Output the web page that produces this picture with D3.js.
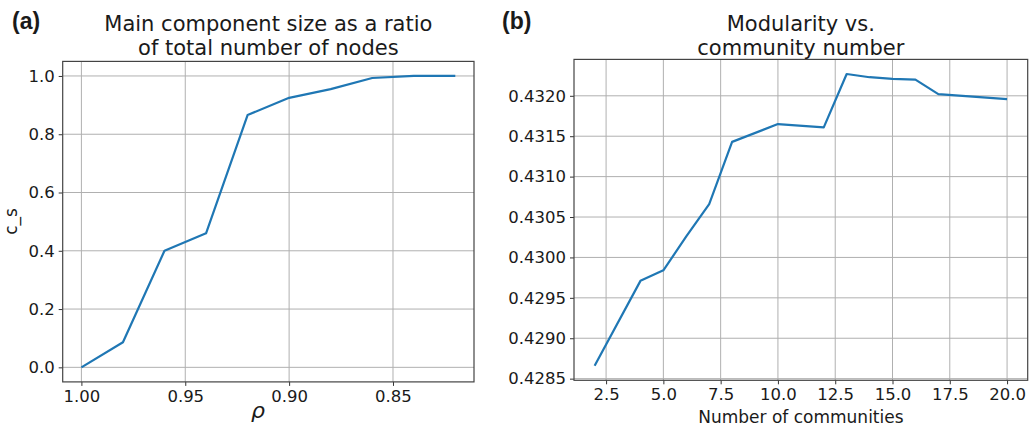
<!DOCTYPE html>
<html>
<head>
<meta charset="utf-8">
<script src="https://cdn.jsdelivr.net/npm/d3@7"></script>
<style>
body{margin:0;background:#fff;}
svg text{font-family:"DejaVu Sans",sans-serif;fill:#1a1a1a;}
.grid line{stroke:#b0b0b0;stroke-width:1;}
.axis path{display:none;}
.axis line{stroke:#333;}
.frame{fill:none;stroke:#444;stroke-width:1.2;}
</style>
</head>
<body>
<svg id="chart" width="1030" height="428"></svg>
<script>
// panel (a): main component size vs rho
var rho=[1.00,0.98,0.96,0.94,0.92,0.90,0.88,0.86,0.84,0.82];
var cs=[0.0,0.086,0.40,0.46,0.866,0.925,0.955,0.993,1.0,1.0];
var rhoTicks=[1.00,0.95,0.90,0.85];
var csTicks=[0.0,0.2,0.4,0.6,0.8,1.0];

// panel (b): modularity vs community number
var ncom=[2,4,5,6,7,8,10,12,13,14,15,16,17,20];
var modularity=[0.42866,0.42971,0.42984,0.43026,0.43066,0.43143,0.43165,0.43161,0.43227,0.43223,0.43221,0.43220,0.43202,0.43196];
var ncomTicks=[2.5,5.0,7.5,10.0,12.5,15.0,17.5,20.0];
var modTicks=[0.4285,0.4290,0.4295,0.4300,0.4305,0.4310,0.4315,0.4320];

var svg=d3.select("#chart");

// matplotlib style 5% margins around the data
function padded(ext){
    var m=(ext[1]-ext[0])*0.05;
    return [ext[0]-m,ext[1]+m];
}

function panel(opt){
    var x=d3.scaleLinear().domain(opt.xdom).range([opt.left,opt.right]);
    var y=d3.scaleLinear().domain(opt.ydom).range([opt.bottom,opt.top]);
    var g=svg.append("g");

    // grid
    g.append("g").attr("class","grid")
        .selectAll("line").data(opt.xt).enter().append("line")
        .attr("x1",d=>x(d)).attr("x2",d=>x(d))
        .attr("y1",opt.top).attr("y2",opt.bottom);
    g.append("g").attr("class","grid")
        .selectAll("line").data(opt.yt).enter().append("line")
        .attr("y1",d=>y(d)).attr("y2",d=>y(d))
        .attr("x1",opt.left).attr("x2",opt.right);

    // axes
    g.append("g").attr("class","axis")
        .attr("transform","translate(0,"+opt.bottom+")")
        .call(d3.axisBottom(x).tickValues(opt.xt).tickSize(4).tickPadding(4).tickFormat(opt.xf))
        .selectAll("text").attr("font-size","16.5px").attr("font-family","DejaVu Sans").attr("fill","#1a1a1a");
    g.append("g").attr("class","axis")
        .attr("transform","translate("+opt.left+",0)")
        .call(d3.axisLeft(y).tickValues(opt.yt).tickSize(4).tickPadding(4).tickFormat(opt.yf))
        .selectAll("text").attr("font-size","16.5px").attr("font-family","DejaVu Sans").attr("fill","#1a1a1a");

    // data line
    var line=d3.line().x(d=>x(d[0])).y(d=>y(d[1]));
    g.append("path")
        .datum(d3.zip(opt.xs,opt.ys))
        .attr("d",line)
        .attr("fill","none")
        .attr("stroke","#1f77b4")
        .attr("stroke-width",2.2)
        .attr("stroke-linejoin","round");

    // frame
    g.append("rect").attr("class","frame")
        .attr("x",opt.left).attr("y",opt.top)
        .attr("width",opt.right-opt.left).attr("height",opt.bottom-opt.top);

    // title, two lines
    var cx=(opt.left+opt.right)/2;
    g.append("text").attr("x",cx).attr("y",30.5).attr("text-anchor","middle")
        .attr("font-size","21px").text(opt.title[0]);
    g.append("text").attr("x",cx).attr("y",54.5).attr("text-anchor","middle")
        .attr("font-size","21px").text(opt.title[1]);

    // panel letter
    g.append("text").attr("x",opt.letterX).attr("y",28.5)
        .attr("font-weight","bold").attr("font-size","23px")
        .style("font-family","'Liberation Sans',Arial,sans-serif")
        .text(opt.letter);
    return g;
}

// rho axis is reversed: larger values on the left
var rhoDom=padded(d3.extent(rho)).reverse();
var ga=panel({
    left:62.7,right:474,top:61.4,bottom:381.9,
    xdom:rhoDom,
    ydom:padded(d3.extent(cs)),
    xs:rho,ys:cs,xt:rhoTicks,yt:csTicks,
    xf:d3.format(".2f"),yf:d3.format(".1f"),
    title:["Main component size as a ratio","of total number of nodes"],
    letter:"(a)",letterX:12
});
ga.append("text")
    .attr("transform","translate(17,221.5) rotate(-90)")
    .attr("text-anchor","middle").attr("font-size","17px").text("c_s");
ga.append("text")
    .attr("x",258).attr("y",418).attr("text-anchor","middle")
    .attr("font-size","22px").attr("font-style","italic").text("ρ");

var gb=panel({
    left:574,right:1027.7,top:59.4,bottom:380.3,
    xdom:padded(d3.extent(ncom)),
    ydom:padded(d3.extent(modularity)),
    xs:ncom,ys:modularity,xt:ncomTicks,yt:modTicks,
    xf:d3.format(".1f"),yf:d3.format(".4f"),
    title:["Modularity vs.","community number"],
    letter:"(b)",letterX:502
});
gb.append("text")
    .attr("x",800.9).attr("y",423).attr("text-anchor","middle")
    .attr("font-size","17px").text("Number of communities");
</script>
</body>
</html>
